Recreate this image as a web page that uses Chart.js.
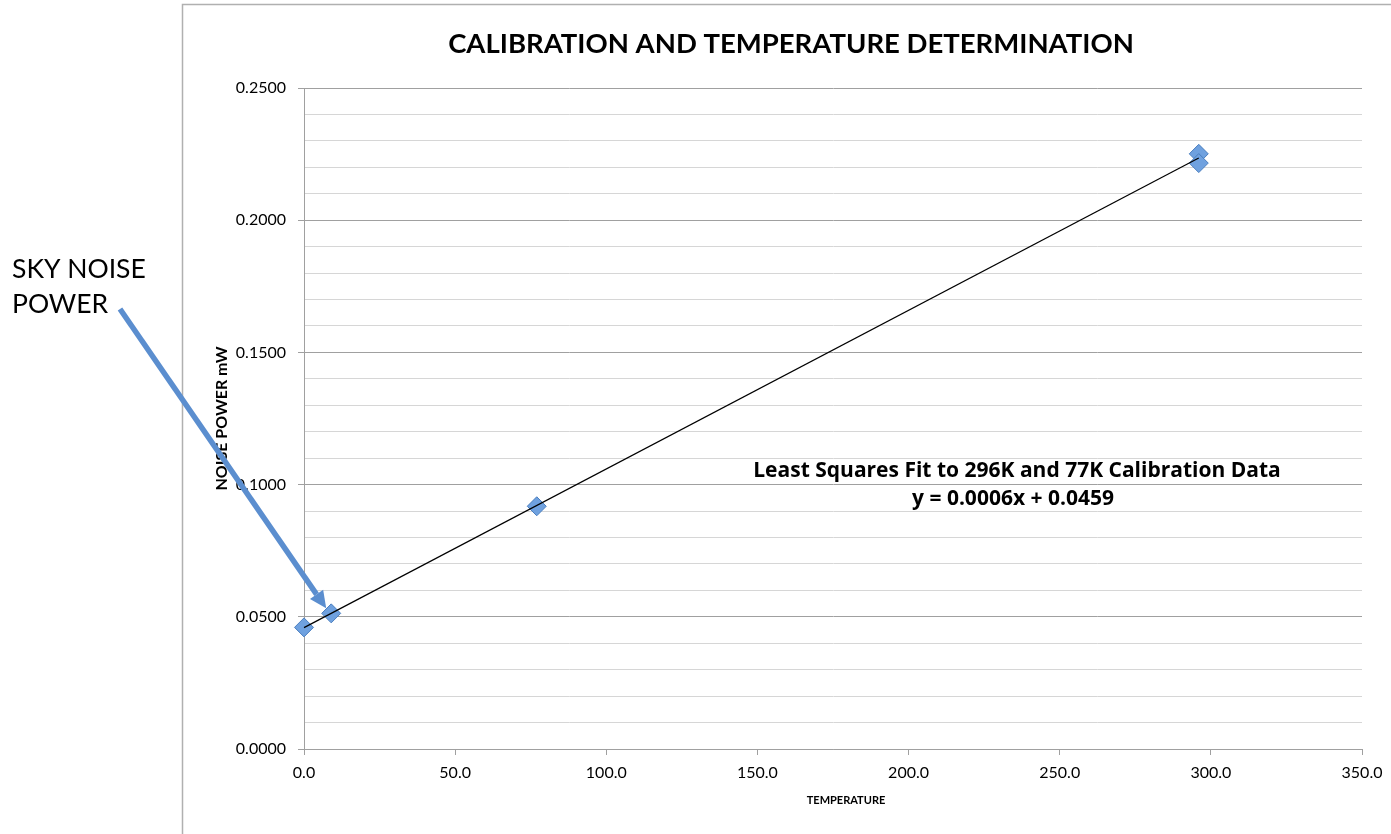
<!DOCTYPE html>
<html>
<head>
<meta charset="utf-8">
<script src="https://cdn.jsdelivr.net/npm/chart.js@4.4.1/dist/chart.umd.min.js"></script>
<style>
  html, body { margin: 0; padding: 0; background: #ffffff; overflow: hidden; }
  #wrap { position: absolute; left: 0; top: 0; width: 1391px; height: 834px; }
</style>
</head>
<body>
<div id="wrap"><canvas id="c" width="1391" height="834"></canvas></div>
<script>
// ---- data ----
const temperatures = [0, 9, 77, 296, 296];
const noisePower   = [0.0460, 0.0513, 0.0918, 0.2251, 0.2216];
const fitTemps     = [0, 296];
const fitPower     = [0.0459, 0.2235];
const chartTitle   = 'CALIBRATION AND TEMPERATURE DETERMINATION';
const xTitle       = 'TEMPERATURE';
const yTitle       = 'NOISE POWER mW';
const fitLabel     = ['Least Squares Fit to 296K and 77K Calibration Data', 'y = 0.0006x + 0.0459'];
const calloutText  = ['SKY NOISE', 'POWER'];

const FONT = 'Lato, "Open Sans", sans-serif';
const FONT2 = '"Open Sans", Lato, sans-serif';
const MAJOR = '#a0a0a0';
const MINOR = '#d6d6d6';
const ARROW = '#5b8ecf';

const isMajor = v => Math.abs(Math.round(v * 100) % 5) === 0;

const decor = {
  id: 'decor',
  beforeDraw(chart) {
    const ctx = chart.ctx;
    ctx.save();
    ctx.strokeStyle = '#b0b0b0';
    ctx.lineWidth = 1.5;
    ctx.beginPath();
    ctx.moveTo(182.5, 834);
    ctx.lineTo(182.5, 4.5);
    ctx.lineTo(1391, 4.5);
    ctx.stroke();
    ctx.restore();
  },
  afterDraw(chart) {
    const ctx = chart.ctx;
    const xs = chart.scales.x, ys = chart.scales.y;
    ctx.save();
    ctx.fillStyle = '#000';
    // chart title
    ctx.textAlign = 'center';
    ctx.textBaseline = 'alphabetic';
    ctx.font = 'bold 27.5px ' + FONT;
    ctx.fillText(chartTitle, 791, 53);
    // x axis title
    ctx.font = 'bold 11px ' + FONT;
    ctx.textBaseline = 'middle';
    ctx.fillText(xTitle, 846, 800);
    // fit annotation
    ctx.textBaseline = 'alphabetic';
    ctx.font = 'bold 21px ' + FONT2;
    ctx.fillText(fitLabel[0], 1017, 477);
    ctx.fillText(fitLabel[1], 1013, 505);
    // callout text
    ctx.textAlign = 'left';
    ctx.font = '26.5px ' + FONT;
    ctx.fillText(calloutText[0], 12, 278);
    ctx.fillText(calloutText[1], 12, 313);
    // arrow
    const x0 = 120, y0 = 309;
    const tx = xs.getPixelForValue(temperatures[1]) - 5;
    const ty = ys.getPixelForValue(noisePower[1]) - 5;
    const ang = Math.atan2(ty - y0, tx - x0);
    const headL = 17, headW = 8;
    const bx = tx - Math.cos(ang) * headL, by = ty - Math.sin(ang) * headL;
    ctx.strokeStyle = ARROW;
    ctx.lineWidth = 5.5;
    ctx.lineCap = 'butt';
    ctx.beginPath();
    ctx.moveTo(x0, y0);
    ctx.lineTo(bx, by);
    ctx.stroke();
    ctx.fillStyle = ARROW;
    ctx.beginPath();
    ctx.moveTo(tx, ty);
    ctx.lineTo(bx + Math.sin(ang) * headW, by - Math.cos(ang) * headW);
    ctx.lineTo(bx - Math.sin(ang) * headW, by + Math.cos(ang) * headW);
    ctx.closePath();
    ctx.fill();
    ctx.restore();
  }
};

new Chart(document.getElementById('c'), {
  type: 'scatter',
  data: {
    datasets: [
      {
        type: 'line',
        label: 'fit',
        data: fitTemps.map((t, i) => ({ x: t, y: fitPower[i] })),
        borderColor: '#000000',
        borderWidth: 1.2,
        pointRadius: 0,
        fill: false,
        clip: false,
        order: 0
      },
      {
        label: 'data',
        data: temperatures.map((t, i) => ({ x: t, y: noisePower[i] })),
        pointStyle: 'rectRot',
        pointRadius: 9.5,
        pointBackgroundColor: '#6fa1df',
        pointBorderColor: '#4a7ebf',
        pointBorderWidth: 1,
        clip: false,
        order: 1
      }
    ]
  },
  options: {
    responsive: false,
    animation: false,
    events: [],
    layout: { padding: { left: 182, top: 88, right: 29, bottom: 0 } },
    plugins: {
      legend: { display: false },
      tooltip: { enabled: false },
      title: { display: false }
    },
    scales: {
      x: {
        type: 'linear',
        min: 0, max: 350,
        afterFit(s) { s.height = 85; },
        ticks: {
          stepSize: 50,
          color: '#000',
          padding: 8,
          maxRotation: 0,
          font: { family: FONT, size: 16 },
          callback: v => Number(v).toFixed(1)
        },
        grid: { drawOnChartArea: false, drawTicks: true, tickLength: 6, color: MAJOR },
        border: { color: MAJOR, width: 1 },
        title: { display: false, text: xTitle }
      },
      y: {
        type: 'linear',
        min: 0, max: 0.25,
        afterFit(s) { s.width = 122; },
        ticks: {
          stepSize: 0.01,
          autoSkip: false,
          color: '#000',
          padding: 12,
          font: { family: FONT, size: 16 },
          callback: v => isMajor(v) ? Number(v).toFixed(4) : ''
        },
        grid: {
          tickLength: 6,
          color: c => (c.tick && isMajor(c.tick.value)) ? MAJOR : MINOR,
          tickColor: c => (c.tick && isMajor(c.tick.value)) ? MAJOR : 'rgba(0,0,0,0)'
        },
        border: { color: MAJOR, width: 1 },
        title: {
          display: true, text: yTitle, color: '#000',
          font: { family: FONT, size: 16, weight: 'bold' },
          padding: { top: 30, bottom: 0 }
        }
      }
    }
  },
  plugins: [decor]
});
</script>
</body>
</html>
